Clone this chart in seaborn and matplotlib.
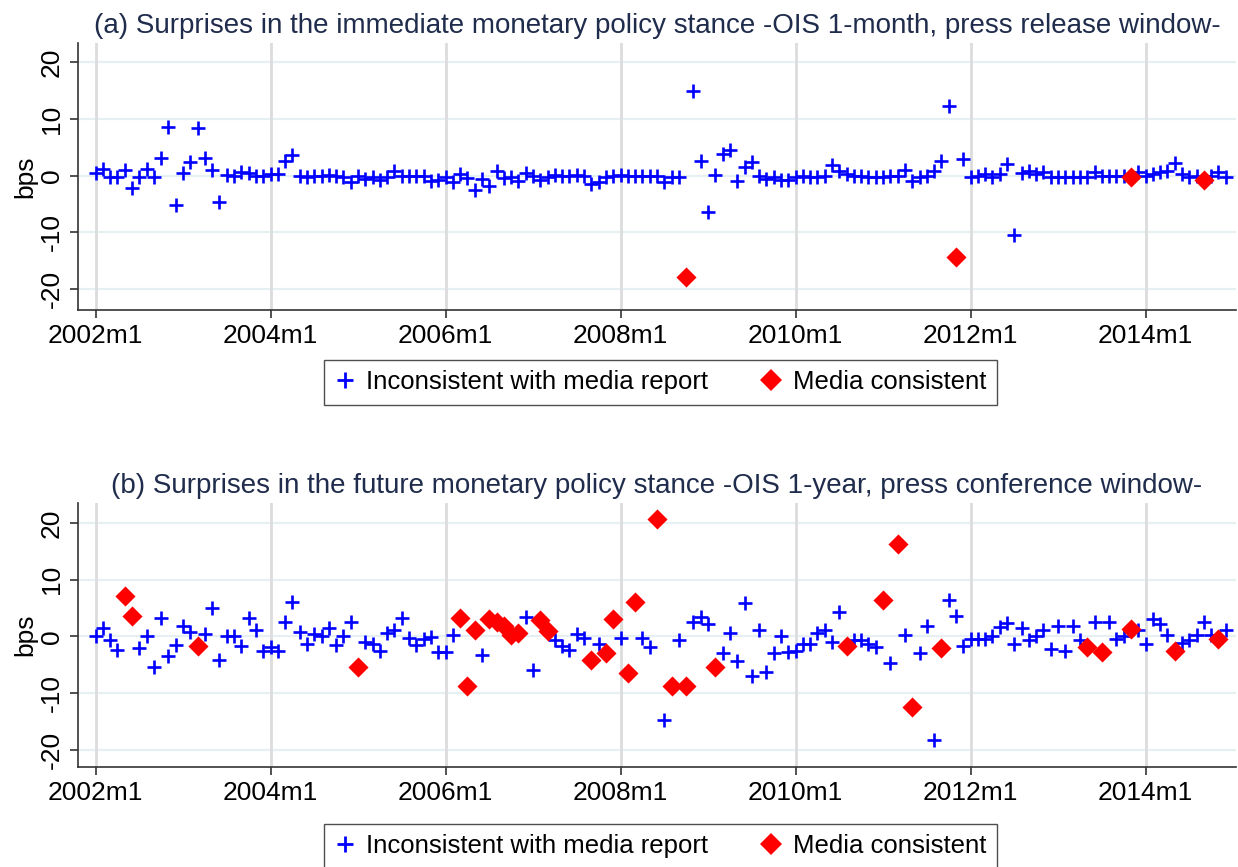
import numpy as np
import pandas as pd
import matplotlib
matplotlib.use('Agg')
import matplotlib.pyplot as plt
from matplotlib.lines import Line2D
import seaborn as sns

# ECB policy surprises, one per month 2002m1 - 2014m12 (bps)
months = pd.period_range('2002-01', '2014-12', freq='M')

ois_1m_release = [
    0.4, 1.2, -0.3, -0.3, 1.0, -2.1, -0.2, 1.2, -0.3, 3.2, 8.6, -5.2,      # 2002
    0.4, 2.4, 8.4, 3.1, 1.0, -4.6, 0.2, 0.0, 0.6, 0.4, 0.0, 0.0,           # 2003
    0.3, 0.3, 2.5, 3.7, 0.0, -0.3, 0.0, 0.0, 0.2, 0.0, -0.3, -1.2,         # 2004
    0.0, -0.6, -0.2, -0.8, -0.2, 0.8, 0.0, 0.0, 0.0, 0.0, -0.9, -0.8,      # 2005
    -0.2, -1.2, 0.3, -0.5, -2.6, -0.6, -1.8, 0.9, -0.4, -0.3, -0.9, 0.4,   # 2006
    0.0, -0.8, -0.2, 0.2, 0.0, 0.0, 0.2, 0.0, -1.5, -1.2, -0.2, 0.0,       # 2007
    0.2, 0.0, 0.0, 0.0, 0.0, 0.0, -1.2, -0.3, -0.3, -17.8, 14.9, 2.6,      # 2008
    -6.4, 0.2, 3.9, 4.5, -1.0, 1.5, 2.4, 0.0, -0.6, -0.2, -0.8, -0.8,      # 2009
    -0.2, 0.0, -0.2, -0.3, 0.0, 1.8, 0.9, 0.3, 0.0, 0.0, -0.2, -0.3,       # 2010
    -0.2, 0.0, 0.0, 1.0, -0.9, -0.3, 0.0, 0.9, 2.6, 12.2, -14.3, 2.9,      # 2011
    -0.3, 0.0, 0.3, -0.3, 0.3, 2.1, -10.4, 0.4, 0.8, 0.3, 0.6, -0.2,       # 2012
    -0.2, -0.2, -0.2, -0.2, -0.2, 0.6, 0.0, 0.0, 0.0, 0.0, -0.2, 0.6,      # 2013
    0.0, 0.3, 0.6, 0.8, 2.2, 0.3, -0.2, 0.0, -0.8, 0.0, 0.6, -0.2,         # 2014
]

ois_1y_conference = [
    0.1, 1.5, -0.7, -2.4, 7.1, 3.6, -2.1, 0.0, -5.3, 3.2, -3.5, -1.5,      # 2002
    1.8, 0.7, -1.6, 0.5, 5.0, -4.2, 0.0, 0.0, -1.6, 3.2, 1.1, -2.5,        # 2003
    -1.8, -2.5, 2.5, 6.0, 0.7, -1.3, 0.5, 0.0, 1.5, -1.5, 0.0, 2.5,        # 2004
    -5.3, -0.9, -1.3, -2.6, 0.6, 1.1, 3.2, -0.2, -1.5, -0.4, -0.1, -2.8,   # 2005
    -2.8, 0.3, 3.2, -8.7, 1.1, -3.2, 3.0, 2.5, 1.8, 0.2, 0.6, 3.5,         # 2006
    -5.9, 2.9, 0.9, -0.7, -1.6, -2.4, 0.4, -0.2, -4.1, -1.3, -3.0, 3.1,    # 2007
    -0.2, -6.4, 6.0, -0.2, -1.9, 20.7, -14.8, -8.7, -0.6, -8.7, 2.6, 3.4,  # 2008
    2.2, -5.3, -2.9, 0.6, -4.4, 5.8, -6.9, 1.2, -6.2, -2.9, 0.0, -2.8,     # 2009
    -2.6, -1.3, -1.3, 0.6, 1.1, -0.9, 4.3, -1.6, -0.6, -0.7, -1.3, -1.9,   # 2010
    6.4, -4.7, 16.2, 0.3, -12.5, -2.9, 1.8, -18.2, -2.1, 6.5, 3.6, -1.6,   # 2011
    -0.5, -0.5, -0.5, 0.0, 1.6, 2.4, -1.3, 1.5, -0.6, 0.0, 1.2, -2.2,      # 2012
    1.8, -2.6, 1.8, -0.6, -1.9, 2.6, -2.8, 2.5, -0.5, 0.0, 1.3, 1.2,       # 2013
    -1.3, 3.1, 2.2, 0.3, -2.5, -1.1, -0.6, 0.3, 2.5, 0.3, -0.5, 1.2,       # 2014
]

# meetings where the surprise agrees with the media report
media_a = ['2008-10', '2011-11', '2013-11', '2014-09']
media_b = ['2002-05', '2002-06', '2003-03', '2005-01', '2006-03', '2006-04',
           '2006-05', '2006-07', '2006-08', '2006-09', '2006-10', '2006-11',
           '2007-02', '2007-03', '2007-09', '2007-11', '2007-12', '2008-02',
           '2008-03', '2008-06', '2008-08', '2008-10', '2009-02', '2010-08',
           '2011-01', '2011-03', '2011-05', '2011-09', '2013-05', '2013-07',
           '2013-11', '2014-05', '2014-11']

tick_labels = ['2002m1', '2004m1', '2006m1', '2008m1', '2010m1', '2012m1', '2014m1']
tick_months = ['2002-01', '2004-01', '2006-01', '2008-01', '2010-01', '2012-01', '2014-01']

titles = ['(a) Surprises in the immediate monetary policy stance -OIS 1-month, press release window-',
          '(b) Surprises in the future monetary policy stance -OIS 1-year, press conference window-']
legend_labels = ['Inconsistent with media report', 'Media consistent']

sns.set_theme(style='white')
plt.rcParams['font.family'] = ['Liberation Sans', 'DejaVu Sans']

start = months[0]
def to_idx(p):
    return (pd.Period(p, freq='M') - start).n

t = np.array([(m - start).n for m in months])

BLUE = '#0000ff'
RED = '#ff0000'
TITLE_C = '#1f2c4c'

fig = plt.figure(figsize=(12.38, 8.67), dpi=100)
W, H = 1238, 867

panels = [
    (ois_1m_release, media_a, (43, 310), (-23.7, 23.4), 360),
    (ois_1y_conference, media_b, (503, 767), (-23.0, 23.5), 824),
]

for k, (vals, media, (top, bot), ylim, leg_top) in enumerate(panels):
    ax = fig.add_axes([78 / W, 1 - bot / H, (1236 - 78) / W, (bot - top) / H])
    df = pd.DataFrame({'t': t, 'bps': vals})
    df['media'] = [str(m) in media for m in months]

    # grid lines (Stata look)
    for v in [-20, -10, 0, 10, 20]:
        ax.axhline(v, color='#e6eff1', lw=1.6, zorder=0)
    for p in tick_months:
        ax.axvline(to_idx(p), color='#dcdcdc', lw=2.0, zorder=0)

    sns.scatterplot(data=df[~df['media']], x='t', y='bps', ax=ax, marker='+',
                    color=BLUE, s=95, linewidth=1.9, zorder=3, legend=False)
    sns.scatterplot(data=df[df['media']], x='t', y='bps', ax=ax, marker='D',
                    color=RED, s=105, linewidth=0, zorder=4, legend=False)

    ax.set_xlim(-2.4, 156.4)
    ax.set_ylim(*ylim)
    ax.set_xticks([to_idx(p) for p in tick_months])
    ax.set_xticklabels(tick_labels, fontsize=19)
    ax.set_yticks([-20, -10, 0, 10, 20])
    ax.set_yticklabels(['-20', '-10', '0', '10', '20'], fontsize=19,
                       rotation=90, va='center')
    ax.set_xlabel('')
    ax.set_ylabel('bps', fontsize=19, labelpad=2, color='black')
    ax.tick_params(axis='both', direction='out', length=6, width=1.2,
                   color='#333333', labelcolor='black', pad=4,
                   bottom=True, left=True)
    for side in ['top', 'right']:
        ax.spines[side].set_visible(False)
    for side in ['left', 'bottom']:
        ax.spines[side].set_color('#333333')
        ax.spines[side].set_linewidth(1.2)
    ax.set_title(titles[k], fontsize=20, color=TITLE_C, pad=7)

    handles = [
        Line2D([], [], marker='+', color=BLUE, linestyle='none',
               markersize=11, markeredgewidth=2.0),
        Line2D([], [], marker='D', color=RED, linestyle='none',
               markersize=11, markeredgewidth=0),
    ]
    leg = fig.legend(handles, legend_labels, ncol=2, loc='upper center',
                     bbox_to_anchor=(660.5 / W, 1 - leg_top / H), fontsize=18.5,
                     frameon=True, fancybox=False, edgecolor='#222222',
                     handlelength=0.8, handletextpad=0.45, columnspacing=2.05,
                     borderpad=0.4, borderaxespad=0)
    for txt in leg.get_texts():
        txt.set_color('black')
    leg.get_frame().set_linewidth(1.0)

fig.savefig('out.png', dpi=100)
